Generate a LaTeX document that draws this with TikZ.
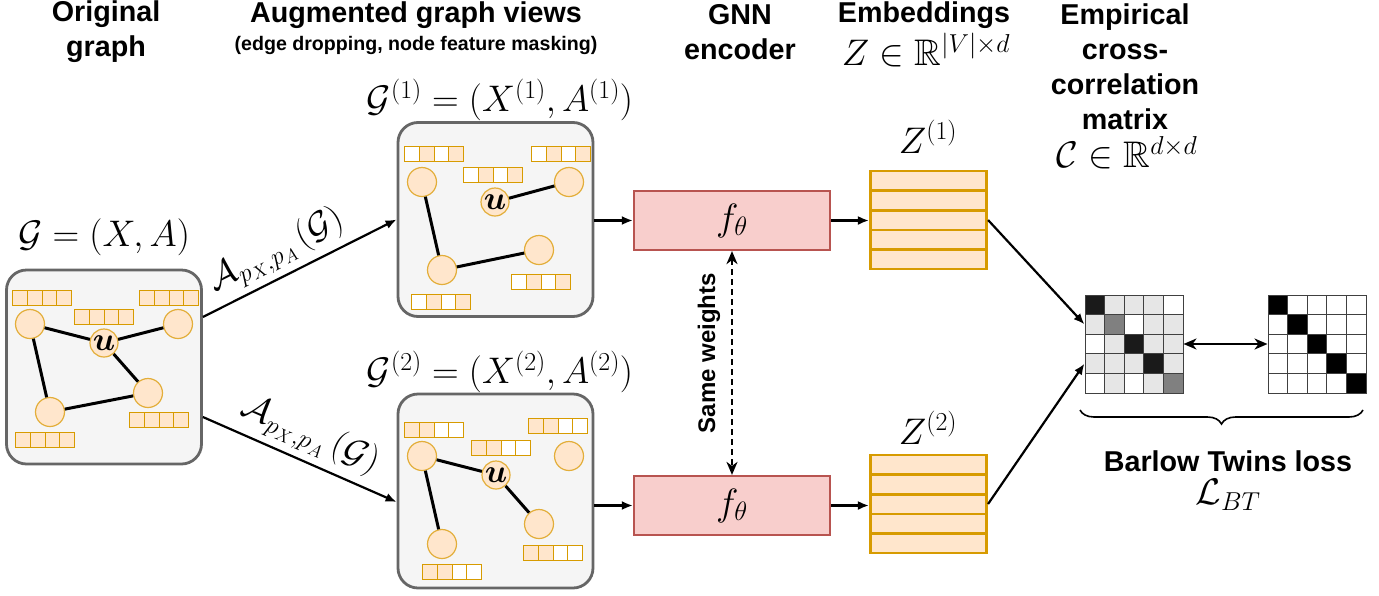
\RequirePackage{fix-cm}
\documentclass[tikz,border=0pt]{standalone}
\usepackage{amsmath}
\usepackage{amssymb}
\usepackage[no-math]{fontspec}
\setmainfont{Liberation Sans}
\usepackage{tikz}
\usetikzlibrary{positioning}
\usetikzlibrary{arrows.meta}
\usetikzlibrary{decorations.pathreplacing}
\tikzset{>={Latex[length=11pt,width=9pt]}}
\definecolor{boxgray}{HTML}{F5F5F5}
\definecolor{bordergray}{HTML}{666666}
\definecolor{featfill}{HTML}{FFE6CC}
\definecolor{featline}{HTML}{D79B00}
\definecolor{vtxline}{HTML}{E3AE3A}
\definecolor{encfill}{HTML}{F8CECC}
\definecolor{encline}{HTML}{B85450}
\definecolor{cellgray}{HTML}{E6E6E6}
\definecolor{cellmid}{HTML}{808080}
\definecolor{celldark}{HTML}{1A1A1A}
\tikzset{
  head/.style={font=\bfseries\fontsize{28.7}{35}\selectfont, align=center, inner sep=0pt},
  mathlbl/.style={font=\fontsize{37}{42}\selectfont, inner sep=0pt},
  graphbox/.style={draw=bordergray, fill=boxgray, line width=2.8pt, rounded corners=20pt,
    minimum width=195pt, minimum height=194pt},
  vtx/.style={circle, draw=vtxline, fill=featfill, line width=1.2pt, minimum size=29pt, inner sep=0pt},
  uvtx/.style={vtx, minimum size=28pt, font=\fontsize{33}{33}\selectfont},
  cell/.style={draw=featline, line width=1pt, minimum width=14.75pt, minimum height=14.5pt, inner sep=0pt},
  edge/.style={line width=3pt},
  enc/.style={draw=encline, fill=encfill, line width=2.2pt, minimum width=196pt, minimum height=59pt,
    font=\fontsize{38}{42}\selectfont},
  zrow/.style={draw=featline, fill=featfill, line width=2.6pt, minimum width=116.5pt, minimum height=19.6pt, inner sep=0pt},
  mcell/.style={draw=black!75, line width=1pt, minimum size=19.6pt, inner sep=0pt},
  flow/.style={->, line width=2.2pt},
  twoway/.style={{Stealth[length=13pt,width=11pt,inset=4pt]}-{Stealth[length=13pt,width=11pt,inset=4pt]}, line width=2.2pt},
}
\newcommand{\featvec}[3]{%
  \foreach \fc [count=\i] in {#3}
    \node[cell, fill=\fc, xshift={(\i-2.5)*14.75}] (#1-\i) at (#2) {};
}

\begin{document}
\begin{tikzpicture}[x=1pt, y=-1pt]
  \useasboundingbox (0,0) rectangle (1379,595);

  % headings
  \node[head] (hOrig) at (106,32) {Original\\graph};
  \node[head] (hAug) at (416,15) {Augmented graph views};
  \node[font=\bfseries\fontsize{19.6}{24}\selectfont, inner sep=0pt] (hAugSub) at (416,45) {(edge dropping, node feature masking)};
  \node[head] (hEnc) at (740,32) {GNN\\encoder};
  \node[head] (hEmb) at (924,15) {Embeddings};
  \node[mathlbl] (hEmbDim) at (926,50) {$Z \in \mathbb{R}^{|V| \times d}$};
  \node[head] (hCorr) at (1125,67) {Empirical\\cross-\\correlation\\matrix};
  \node[mathlbl] (hCorrDim) at (1127,153) {$\mathcal{C} \in \mathbb{R}^{d \times d}$};

  % original graph
  \node[graphbox] (orig) at (104,367) {};
  \node[mathlbl] (origLbl) at (104,237) {$\mathcal{G} = (X, A)$};
  \node[vtx] (o1) at (30,324) {};
  \node[uvtx] (ou) at (104,343) {$\boldsymbol{u}$};
  \node[vtx] (o2) at (178,324) {};
  \node[vtx] (o3) at (148,393) {};
  \node[vtx] (o4) at (50,412) {};
  \draw[edge] (o1) -- (ou) -- (o2);
  \draw[edge] (ou) -- (o3) -- (o4) -- (o1);
  \featvec{of1}{42,298}{featfill,featfill,featfill,featfill}
  \featvec{ofu}{104,317}{featfill,featfill,featfill,featfill}
  \featvec{of2}{169,298}{featfill,featfill,featfill,featfill}
  \featvec{of3}{159,420}{featfill,featfill,featfill,featfill}
  \featvec{of4}{45,440}{featfill,featfill,featfill,featfill}

  % first view
  \node[graphbox] (view1) at (495.5,219.5) {};
  \node[mathlbl] (view1Lbl) at (500,100) {$\mathcal{G}^{(1)} = (X^{(1)}, A^{(1)})$};
  \node[vtx] (a1) at (422,182) {};
  \node[uvtx] (au) at (495,202) {$\boldsymbol{u}$};
  \node[vtx] (a2) at (569,182) {};
  \node[vtx] (a3) at (539,250) {};
  \node[vtx] (a4) at (442,270) {};
  \draw[edge] (a1) -- (a4) -- (a3);
  \draw[edge] (au) -- (a2);
  \featvec{af1}{434,154}{white,featfill,white,featfill}
  \featvec{afu}{493,175}{white,featfill,white,featfill}
  \featvec{af2}{561,154}{white,featfill,white,featfill}
  \featvec{af3}{541,282}{white,featfill,white,featfill}
  \featvec{af4}{441,302}{white,featfill,white,featfill}

  % second view
  \node[graphbox] (view2) at (495.5,491) {};
  \node[mathlbl] (view2Lbl) at (500,372) {$\mathcal{G}^{(2)} = (X^{(2)}, A^{(2)})$};
  \node[vtx] (b1) at (422,456) {};
  \node[uvtx] (bu) at (496,475) {$\boldsymbol{u}$};
  \node[vtx] (b2) at (569,456) {};
  \node[vtx] (b3) at (539,524) {};
  \node[vtx] (b4) at (442,544) {};
  \draw[edge] (b4) -- (b1) -- (bu) -- (b3);
  \featvec{bf1}{434,430}{featfill,featfill,white,white}
  \featvec{bfu}{501,448}{featfill,featfill,white,white}
  \featvec{bf2}{558,426}{featfill,featfill,white,white}
  \featvec{bf3}{553,553}{featfill,featfill,white,white}
  \featvec{bf4}{452,572}{featfill,featfill,white,white}

  % augmentations
  \draw[flow] ([yshift=50pt]orig.east) -- (view1.west)
    node[pos=0.44, above=3pt, sloped, font=\fontsize{36}{40}\selectfont] (aug1) {$\mathcal{A}_{p_X, p_A}\,(\mathcal{G})$};
  \draw[flow] ([yshift=-50pt]orig.east) -- ([yshift=-11pt]view2.west)
    node[pos=0.5, above=3pt, sloped, font=\fontsize{36}{40}\selectfont] (aug2) {$\mathcal{A}_{p_X, p_A}\,(\mathcal{G})$};

  % encoders
  \node[enc] (enc1) at (732,220.5) {$f_\theta$};
  \node[enc] (enc2) at (732,505.5) {$f_\theta$};
  \draw[flow] (view1.east |- enc1.west) -- (enc1.west);
  \draw[flow] (view2.east |- enc2.west) -- (enc2.west);
  \draw[twoway, line width=2pt, dash pattern=on 6pt off 4pt] (enc1.south) -- (enc2.north);
  \node[rotate=90, font=\bfseries\fontsize{24}{28}\selectfont, inner sep=0pt] (same) at (709,353) {Same weights};

  % embeddings
  \foreach \r in {1,...,5} {
    \node[zrow] (zt-\r) at (928.5,{171+19.6*(\r-0.5)}) {};
    \node[zrow] (zb-\r) at (928.5,{455+19.6*(\r-0.5)}) {};
  }
  \node[mathlbl] (ztLbl) at (928,137) {$Z^{(1)}$};
  \node[mathlbl] (zbLbl) at (928,428) {$Z^{(2)}$};
  \draw[flow] (enc1.east) -- (enc1.east -| zt-3.west);
  \draw[flow] (enc2.east) -- (enc2.east -| zb-3.west);

  % cross-correlation and target matrices
  \foreach \r/\row in {1/{celldark,cellgray,cellgray,cellgray,white},
                       2/{cellgray,cellmid,white,cellgray,cellgray},
                       3/{white,cellgray,celldark,cellgray,cellgray},
                       4/{cellgray,cellgray,cellgray,celldark,cellgray},
                       5/{white,cellgray,white,cellgray,cellmid}} {
    \foreach \fc [count=\cc] in \row {
      \node[mcell, fill=\fc] (m-\r-\cc) at ({1085+19.6*(\cc-0.5)},{295+19.6*(\r-0.5)}) {};
      \pgfmathtruncatemacro\idpct{(\r==\cc)*100}
      \node[mcell, fill=black!\idpct] (id-\r-\cc) at ({1268+19.6*(\cc-0.5)},{295+19.6*(\r-0.5)}) {};
    }
  }
  \draw[flow] (zt-3.east) -- (m-2-1.west);
  \draw[flow] (zb-3.east) -- (m-4-1.west);
  \draw[twoway] (m-3-5.east) -- (id-3-1.west);

  % loss
  \coordinate (brL) at (1080,410);
  \coordinate (brR) at (1363,410);
  \draw[line width=1.6pt, decorate, decoration={brace, mirror, amplitude=14pt}] (brL) -- (brR);
  \node[font=\bfseries\fontsize{28.7}{32}\selectfont, inner sep=0pt] (loss) at (1228,461) {Barlow Twins loss};
  \node[mathlbl] (lossLbl) at (1228,495) {$\mathcal{L}_{BT}$};
\end{tikzpicture}
\end{document}
